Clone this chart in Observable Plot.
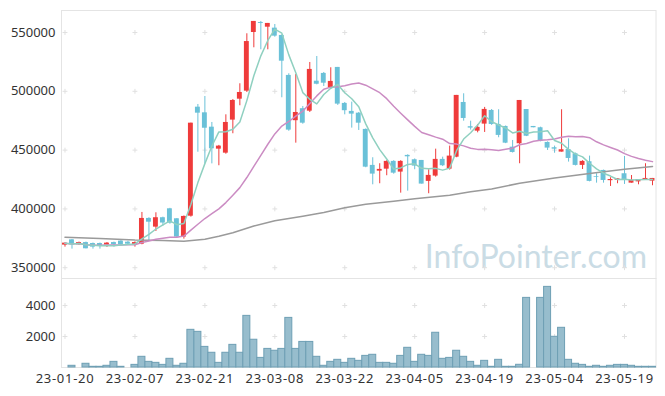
<!DOCTYPE html>
<html><head><meta charset="utf-8">
<script src="https://cdn.jsdelivr.net/npm/d3@7"></script>
<script src="https://cdn.jsdelivr.net/npm/@observablehq/plot@0.6"></script>
<style>
html,body{margin:0;padding:0;background:#fff;}
#chart{position:relative;width:665px;height:396px;overflow:hidden;background:#fff;}
#chart svg{position:absolute;left:0;top:0;}
#chart svg g[aria-label^="x-axis"] text{letter-spacing:0.7px;}
</style></head><body><div id="chart"></div>
<script>
const dates = ["23-01-20","23-01-25","23-01-26","23-01-27","23-01-30","23-01-31","23-02-01","23-02-02","23-02-03","23-02-06",
"23-02-07","23-02-08","23-02-09","23-02-10","23-02-13","23-02-14","23-02-15","23-02-16","23-02-17","23-02-20",
"23-02-21","23-02-22","23-02-23","23-02-24","23-02-27","23-02-28","23-03-02","23-03-03","23-03-06","23-03-07",
"23-03-08","23-03-09","23-03-10","23-03-13","23-03-14","23-03-15","23-03-16","23-03-17","23-03-20","23-03-21",
"23-03-22","23-03-23","23-03-24","23-03-27","23-03-28","23-03-29","23-03-30","23-03-31","23-04-03","23-04-04",
"23-04-05","23-04-06","23-04-07","23-04-10","23-04-11","23-04-12","23-04-13","23-04-14","23-04-17","23-04-18",
"23-04-19","23-04-20","23-04-21","23-04-24","23-04-25","23-04-26","23-04-27","23-04-28","23-05-02","23-05-03",
"23-05-04","23-05-08","23-05-09","23-05-10","23-05-11","23-05-12","23-05-15","23-05-16","23-05-17","23-05-18",
"23-05-19","23-05-22","23-05-23","23-05-24","23-05-25"];

const open = [369200,373700,369500,371400,370600,370600,369200,371400,372600,371700,
369800,370000,391900,384500,392500,400100,391600,376000,393800,486500,
481700,469500,450800,447400,475500,493300,500100,550000,558500,554500,
553700,547500,513500,475000,485200,483100,508600,515200,502700,520300,
489700,482900,481400,467600,437000,432100,433800,440400,431300,445500,
441800,441200,423400,427900,442100,433800,444000,490500,469900,466100,
472100,483700,471800,470100,452500,455400,484500,470100,469000,456500,
452000,448300,450500,446900,437000,440100,427300,432700,424000,424400,
429900,421900,423000,424800,423600];

const high = [371000,374000,371800,371800,371000,371000,371400,371800,373000,372500,
372000,397000,392500,396700,393000,400500,391800,394000,472900,488800,
495600,473500,454000,480000,493000,506400,548900,559400,559400,557700,
556800,548000,514900,514300,487100,524500,529600,516000,520000,520300,
490500,490800,482000,468000,443500,438400,441000,441000,441000,446000,
442500,441200,433300,450800,444000,453400,496500,497900,474600,471800,
486300,484500,484300,470500,458200,492200,484500,470100,469500,457000,
453400,484300,459600,447500,441000,444900,429900,433000,426500,425600,
444600,428400,425000,438400,425900];

const low = [367500,365800,369000,366000,365800,365800,367200,367500,368500,369000,
367500,369500,372600,380800,385300,387000,375500,374300,393000,448200,
438300,438300,436700,446500,463900,487700,499000,537000,535300,535300,
546000,494500,466000,455900,472000,482000,505500,504100,502000,488000,
480000,468700,466700,435000,420500,421400,428200,429500,413400,415100,
433300,421100,412900,427000,436000,433000,443500,474600,467000,464700,
465000,471000,460500,455500,447500,438400,461500,469000,457000,449700,
447400,448300,439800,436500,433500,423000,421900,421900,419100,421400,
420800,421900,420500,424800,419700];

const close = [370900,369500,371400,366100,367500,368900,370900,369500,369500,370000,
371400,391900,388700,392500,388000,387900,376000,393600,472900,481400,
468600,451100,453400,473500,492200,499000,542300,559400,557700,557700,
546900,525600,467000,482000,472900,518600,506000,506900,508400,489100,
483500,480600,472900,435500,429600,433600,440400,430400,440400,444300,
436400,421100,428500,442100,436700,444900,496500,476900,468700,469300,
484600,471800,462500,455900,448000,492200,461800,469000,457500,451700,
450800,450300,442900,437000,440400,423400,426700,424200,425000,425600,
424200,424400,425000,425900,425900];

const volume = [0,110,0,240,45,45,110,365,45,0,
170,690,365,300,170,560,110,240,2430,2300,
1330,950,300,950,1460,950,3330,1790,620,1200,
1080,1200,3200,1200,1650,1650,690,110,365,495,
300,560,430,750,820,300,300,240,750,1270,
365,820,750,2240,560,620,1080,690,365,110,
430,45,495,45,45,175,4490,0,4490,5200,
1980,2560,495,240,170,45,110,45,110,170,
170,110,45,45,45];

// long moving average (grey line)
const maLongDates = ["23-01-20","23-01-31","23-02-07","23-02-13","23-02-16","23-02-21","23-02-23","23-02-27","23-03-03","23-03-08",
"23-03-14","23-03-17","23-03-22","23-03-27","23-03-31","23-04-05","23-04-12","23-04-17","23-04-20","23-04-26",
"23-05-04","23-05-12","23-05-19","23-05-25"];
const maLongValues = [376000,374800,373600,373200,372600,374200,376800,379700,385500,390000,
393800,397000,401000,404000,406500,408600,411600,414500,417000,421800,
426200,430200,433800,436100];

const tickDates = ["23-01-20","23-02-07","23-02-21","23-03-08","23-03-22","23-04-05","23-04-19","23-05-04","23-05-19"];
const priceTicks = [350000,400000,450000,500000,550000];
const volumeTicks = [2000,4000];

const UP = "#ef3b3b", DOWN = "#6ac1d8";
const data = dates.map((d,i)=>({date:d, open:open[i], high:high[i], low:low[i], close:close[i], volume:volume[i]}));
const maLong = maLongDates.map((d,i)=>({date:d, value:maLongValues[i]}));
const colorOf = d => d.close >= d.open ? UP : DOWN;

const common = {
  width: 665, height: 396, marginLeft: 61, marginRight: 9.5,
  style: {fontFamily: "'Noto Sans', sans-serif", fontSize: "13px", color: "#333", background: "transparent", overflow: "visible"}
};

const price = Plot.plot({
  ...common,
  marginTop: 10, marginBottom: 118,
  x: {type: "band", domain: dates, paddingInner: 0.3, paddingOuter: 0.15, axis: null},
  y: {domain: [340830, 568700], ticks: priceTicks, tickSize: 0, tickPadding: 6, tickFormat: "d", label: null},
  color: {type: "identity"},
  marks: [
    Plot.frame({stroke: "#e4e4e4"}),
    Plot.text(["InfoPointer.com"], {frameAnchor: "bottom-right", dx: -9, dy: -11, fill: "#cadce5", fontSize: 32, fontFamily: "Lato, sans-serif", textAnchor: "end"}),
    Plot.dot(d3.cross(tickDates, priceTicks), {x: d => d[0], y: d => d[1], symbol: "plus", r: 1.7, stroke: "#e0e0e0", strokeWidth: 1}),
    Plot.ruleX(data, {x: "date", y1: "low", y2: "high", stroke: colorOf, strokeWidth: 1}),
    Plot.barY(data, {x: "date", y1: "open", y2: "close", fill: colorOf}),
    Plot.lineY(maLong, {x: "date", y: "value", stroke: "#9a9a9a", strokeWidth: 1.5}),
    Plot.lineY(data, Plot.windowY({k: 20, anchor: "end"}, {x: "date", y: "close", stroke: "#cb8cc3", strokeWidth: 1.5})),
    Plot.lineY(data, Plot.windowY({k: 5, anchor: "end"}, {x: "date", y: "close", stroke: "#8fd0c0", strokeWidth: 1.5}))
  ]
});

const vol = Plot.plot({
  ...common,
  marginTop: 278, marginBottom: 29,
  x: {type: "band", domain: dates, paddingInner: 0, paddingOuter: 0, ticks: tickDates, tickSize: 0, tickPadding: 6, label: null},
  y: {domain: [0, 5740], ticks: volumeTicks, tickSize: 0, tickPadding: 6, tickFormat: "d", label: null},
  marks: [
    Plot.frame({stroke: "#e4e4e4"}),
    Plot.dot(d3.cross(tickDates, volumeTicks), {x: d => d[0], y: d => d[1], symbol: "plus", r: 1.7, stroke: "#e0e0e0", strokeWidth: 1}),
    Plot.barY(data.filter(d => d.volume > 0), {x: "date", y: "volume", fill: "#97bdcd", stroke: "#6e9fb4", strokeWidth: 1})
  ]
});

const el = document.getElementById("chart");
el.appendChild(price);
el.appendChild(vol);
</script></body></html>
